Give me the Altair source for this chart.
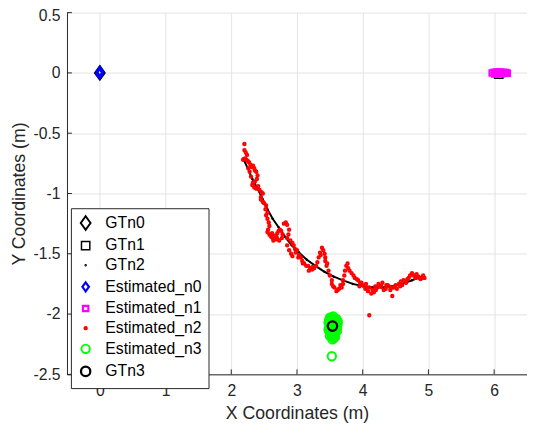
import altair as alt
import pandas as pd

# ---------------- data ----------------
series_names = ["GTn0", "GTn1", "GTn2", "Estimated_n0", "Estimated_n1",
                "Estimated_n2", "Estimated_n3", "GTn3"]

gtn0_x = [0.0]
gtn0_y = [0.0]

gtn1_x = [6.07]
gtn1_y = [-0.01]

gtn3_x = [3.54]
gtn3_y = [-2.10]

gtn2_x = [2.18, 2.25, 2.32, 2.40, 2.48, 2.55, 2.63, 2.72, 2.82, 2.92, 3.03, 3.15,
          3.28, 3.42, 3.56, 3.70, 3.85, 4.00, 4.15, 4.30, 4.45, 4.60, 4.75, 4.90]
gtn2_y = [-0.71, -0.79, -0.88, -0.96, -1.05, -1.13, -1.21, -1.28, -1.36, -1.43, -1.49, -1.55,
          -1.60, -1.65, -1.69, -1.72, -1.75, -1.77, -1.78, -1.78, -1.77, -1.75, -1.72, -1.69]

est_n0_x = [0.0, 0.004, -0.004, 0.0]
est_n0_y = [0.0, 0.006, -0.006, 0.012]

est_n1_x = [5.97, 6.00, 6.03, 6.06, 6.09, 6.12, 6.15, 6.18, 6.20, 6.01, 6.08, 6.14, 6.11, 6.04]
est_n1_y = [0.0, 0.005, -0.005, 0.0, 0.005, -0.005, 0.0, 0.003, -0.003, -0.008, 0.008, 0.006,
            -0.007, 0.007]

est_n2_x = [2.20, 2.20, 2.22, 2.24, 2.18, 2.21, 2.23, 2.25, 2.27, 2.29, 2.31, 2.33,
            2.35, 2.36, 2.38, 2.40, 2.39, 2.36, 2.33, 2.30, 2.28, 2.26, 2.32, 2.35,
            2.38, 2.41, 2.43, 2.46, 2.48, 2.45, 2.45, 2.48, 2.50, 2.53, 2.52, 2.55,
            2.53, 2.55, 2.57, 2.58, 2.56, 2.55, 2.58, 2.61, 2.63, 2.67, 2.70, 2.73,
            2.77, 2.78, 2.76, 2.74, 2.72, 2.70, 2.80, 2.83, 2.85, 2.88, 2.87, 2.85,
            2.90, 2.93, 2.95, 2.85, 2.88, 2.91, 2.93, 2.97, 3.00, 3.03, 3.06, 3.08,
            3.11, 3.14, 3.17, 3.20, 3.23, 3.26, 3.29, 3.31, 3.33, 3.35, 3.38, 3.40,
            3.42, 3.43, 3.43, 3.45, 3.48, 3.50, 3.53, 3.53, 3.57, 3.60, 3.64, 3.68,
            3.70, 3.70, 3.72, 3.73, 3.75, 3.77, 3.78, 3.80, 3.83, 3.86, 3.88, 3.91,
            3.93, 3.96, 3.98, 4.01, 4.05, 4.04, 4.08, 4.10, 4.13, 4.15, 4.17, 4.19,
            4.22, 4.24, 4.27, 4.30, 4.32, 4.35, 4.38, 4.40, 4.42, 4.45, 4.47, 4.50,
            4.52, 4.55, 4.58, 4.60, 4.62, 4.65, 4.68, 4.70, 4.72, 4.75, 4.78, 4.80,
            4.82, 4.85, 4.88, 4.90, 4.92, 4.94, 4.10,
            2.62, 2.66, 2.69, 2.64, 2.60, 2.98, 3.02, 3.09, 3.18, 3.24, 3.36, 3.46,
            3.55, 3.62, 3.66, 3.95, 4.06, 4.20, 4.28, 4.36, 4.44, 4.57, 4.66, 4.86]
est_n2_y = [-0.59, -0.64, -0.66, -0.68, -0.72, -0.71, -0.72, -0.73, -0.74, -0.76, -0.78, -0.77,
            -0.79, -0.81, -0.82, -0.85, -0.88, -0.90, -0.91, -0.86, -0.82, -0.79, -0.93, -0.95,
            -0.96, -0.94, -0.97, -0.99, -1.00, -1.03, -1.05, -1.07, -1.08, -1.10, -1.13, -1.16,
            -1.18, -1.21, -1.24, -1.27, -1.30, -1.32, -1.34, -1.36, -1.37, -1.38, -1.38, -1.39,
            -1.37, -1.34, -1.31, -1.30, -1.31, -1.33, -1.25, -1.24, -1.26, -1.30, -1.34, -1.37,
            -1.39, -1.41, -1.43, -1.43, -1.47, -1.50, -1.52, -1.46, -1.47, -1.51, -1.53, -1.56,
            -1.58, -1.60, -1.60, -1.62, -1.63, -1.62, -1.60, -1.57, -1.53, -1.49, -1.45, -1.47,
            -1.50, -1.53, -1.56, -1.60, -1.64, -1.68, -1.72, -1.75, -1.78, -1.81, -1.79, -1.78,
            -1.75, -1.72, -1.68, -1.64, -1.60, -1.58, -1.62, -1.64, -1.66, -1.68, -1.70, -1.71,
            -1.72, -1.74, -1.74, -1.76, -1.75, -1.79, -1.81, -1.78, -1.83, -1.80, -1.82, -1.77,
            -1.78, -1.75, -1.77, -1.74, -1.80, -1.79, -1.76, -1.77, -1.80, -1.85, -1.78, -1.76,
            -1.79, -1.75, -1.73, -1.76, -1.72, -1.73, -1.71, -1.70, -1.68, -1.66, -1.68, -1.70,
            -1.67, -1.69, -1.71, -1.70, -1.68, -1.70, -2.01,
            -1.33, -1.35, -1.36, -1.39, -1.35, -1.49, -1.53, -1.58, -1.64, -1.61, -1.51, -1.58,
            -1.77, -1.80, -1.76, -1.77, -1.78, -1.80, -1.77, -1.76, -1.78, -1.77, -1.74, -1.70]

est_n3_x = [3.50, 3.55, 3.60, 3.48, 3.53, 3.58, 3.62, 3.49, 3.54, 3.59, 3.61, 3.50,
            3.55, 3.52, 3.57, 3.54, 3.51, 3.56, 3.60, 3.53, 3.58, 3.53,
            3.52, 3.57, 3.49, 3.62, 3.56, 3.51, 3.59, 3.55, 3.50, 3.58, 3.53, 3.56,
            3.61, 3.48, 3.54]
est_n3_y = [-2.03, -2.02, -2.04, -2.07, -2.06, -2.07, -2.08, -2.11, -2.10, -2.12, -2.14, -2.15,
            -2.14, -2.18, -2.17, -2.21, -2.09, -2.05, -2.10, -2.13, -2.19, -2.35,
            -2.03, -2.04, -2.05, -2.06, -2.08, -2.12, -2.09, -2.12, -2.18, -2.15, -2.16, -2.20,
            -2.11, -2.13, -2.04]

x_ticks = [0, 1, 2, 3, 4, 5, 6]
y_ticks = [-2.5, -2.0, -1.5, -1.0, -0.5, 0.0, 0.5]

# ---------------- styles ----------------
diamond = "M0,-1L0.72,0L0,1L-0.72,0Z"
colors = ["#000000", "#000000", "#000000", "#0000ff", "#ff00ff", "#ff0000", "#00ff00", "#000000"]
shapes = [diamond, "square", "circle", diamond, "square", "circle", "circle", "circle"]
sizes = [190, 72, 1, 85, 30, 6, 72, 90]
widths = [2.0, 1.5, 1.5, 2.2, 2.2, 2.0, 2.0, 2.3]

groups = [
    ("GTn0", gtn0_x, gtn0_y), ("GTn1", gtn1_x, gtn1_y), ("GTn2", gtn2_x, gtn2_y),
    ("Estimated_n0", est_n0_x, est_n0_y), ("Estimated_n1", est_n1_x, est_n1_y),
    ("Estimated_n2", est_n2_x, est_n2_y), ("Estimated_n3", est_n3_x, est_n3_y),
    ("GTn3", gtn3_x, gtn3_y),
]
rows = []
for z, (name, xs, ys) in enumerate(groups):
    for xv, yv in zip(xs, ys):
        rows.append({"series": name, "x": xv, "y": yv, "z": z})
df = pd.DataFrame(rows)
curve = pd.DataFrame({"x": gtn2_x, "y": gtn2_y})

W, H = 468, 368
xscale = alt.Scale(domain=[-0.5, 6.5], nice=False, zero=False)
yscale = alt.Scale(domain=[-2.5, 0.5], nice=False, zero=False)

line = alt.Chart(curve).mark_line(color="black", strokeWidth=2).encode(
    x=alt.X("x:Q", scale=xscale,
            axis=alt.Axis(values=x_ticks, title="X Coordinates (m)", labelPadding=9,
                          labelExpr="toString(datum.value)", titlePadding=6)),
    y=alt.Y("y:Q", scale=yscale,
            axis=alt.Axis(values=y_ticks, title="Y Coordinates (m)", labelPadding=7,
                          labelExpr="toString(datum.value)", titlePadding=5,
                          labelOffset={"condition": {"test": "datum.value == 0.5", "value": 3},
                                       "value": 0})),
)

points = alt.Chart(df).mark_point(filled=False, opacity=1).encode(
    x="x:Q",
    y="y:Q",
    color=alt.Color("series:N", scale=alt.Scale(domain=series_names, range=colors),
                    legend=alt.Legend(title=None, orient="none", legendX=4, legendY=199,
                                      fillColor="white", strokeColor="#262626",
                                      padding=7, rowPadding=4, labelFontSize=16,
                                      labelFont="Liberation Sans", labelColor="#000000",
                                      labelOffset=12, symbolStrokeWidth=1.6,
                                      cornerRadius=0)),
    shape=alt.Shape("series:N", scale=alt.Scale(domain=series_names, range=shapes)),
    size=alt.Size("series:N", scale=alt.Scale(type="ordinal", domain=series_names, range=sizes)),
    strokeWidth=alt.StrokeWidth("series:N",
                                scale=alt.Scale(type="ordinal", domain=series_names, range=widths),
                                legend=None),
    order=alt.Order("z:Q"),
)

xt = alt.Chart(pd.DataFrame({"t": x_ticks})).mark_rule(color="#262626", strokeWidth=1).encode(
    x=alt.X("t:Q", scale=xscale), y=alt.value(H), y2=alt.value(H - 5))
yt = alt.Chart(pd.DataFrame({"t": y_ticks})).mark_rule(color="#262626", strokeWidth=1).encode(
    y=alt.Y("t:Q", scale=yscale), x=alt.value(0), x2=alt.value(5))

chart = alt.layer(line, points, xt, yt).properties(
    width=W, height=H,
    autosize=alt.AutoSizeParams(type="none"),
    padding={"left": 60, "top": 1, "right": 0, "bottom": 58},
).configure_view(stroke=None).configure_axis(
    labelFont="Liberation Sans", labelFontSize=16, labelColor="#262626",
    titleFont="Liberation Sans", titleFontSize=18, titleFontWeight="normal",
    titleColor="#262626", gridColor="#e3e3e3", gridWidth=1, domainColor="#262626",
    domainWidth=1, tickSize=0, ticks=False,
)

chart.save("out.html", embed_options={"renderer": "svg", "actions": False})
